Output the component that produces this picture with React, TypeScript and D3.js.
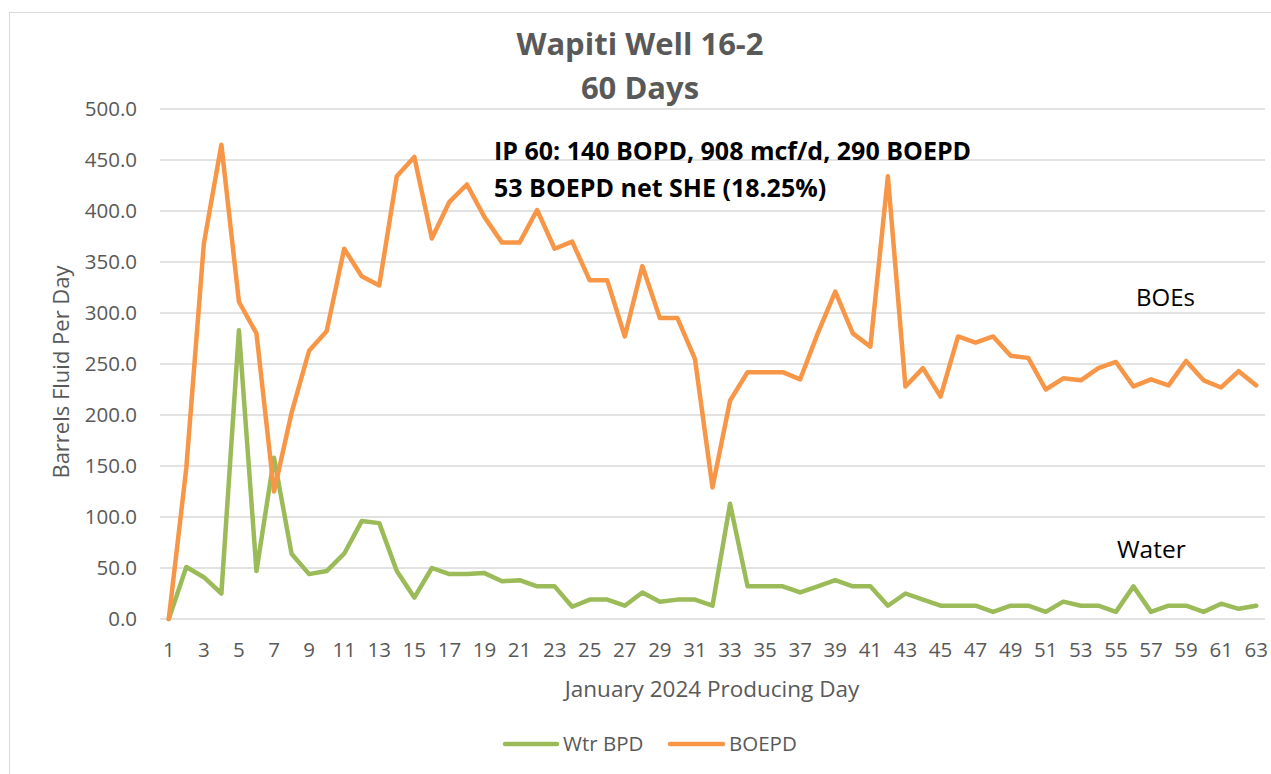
import * as d3 from "d3";

const days = d3.range(1, 64);

const boepd = [
  0, 148, 368, 465, 311, 280, 125, 202, 263, 282,
  363, 336, 327, 434, 453, 373, 409, 426, 394, 369,
  369, 401, 363, 370, 332, 332, 277, 346, 295, 295,
  255, 129, 214, 242, 242, 242, 235, 280, 321, 280,
  267, 434, 228, 246, 218, 277, 271, 277, 258, 256,
  225, 236, 234, 246, 252, 228, 235, 229, 253, 234,
  227, 243, 229,
];

const wtrBpd = [
  0, 51, 41, 25, 283, 47, 158, 64, 44, 47,
  64, 96, 94, 47, 21, 50, 44, 44, 45, 37,
  38, 32, 32, 12, 19, 19, 13, 26, 17, 19,
  19, 13, 113, 32, 32, 32, 26, 32, 38, 32,
  32, 13, 25, 19, 13, 13, 13, 7, 13, 13,
  7, 17, 13, 13, 7, 32, 7, 13, 13, 7,
  15, 10, 13,
];

const yTicks = d3.range(0, 501, 50);
const xTickDays = days.filter((d) => d % 2 === 1);

const FONT = "'Open Sans', Lato, sans-serif";
const GREY = "#595959";
const ORANGE = "#F79646";
const GREEN = "#9BBB59";

const W = 1271;
const H = 774;

export default function App() {
  const x = d3.scalePoint<number>().domain(days).range([160, 1265]).padding(0.5);
  const y = d3.scaleLinear().domain([0, 500]).range([619, 109]);

  const line = d3
    .line<number>()
    .x((_, i) => x(days[i]) as number)
    .y((v) => y(v));

  return (
    <svg
      width={W}
      height={H}
      style={{ position: "absolute", left: 0, top: 0, background: "#fff" }}
      fontFamily={FONT}
    >
      <rect x={9.5} y={12.5} width={1300} height={800} fill="#fff" stroke="#d9d9d9" />

      {/* titre */}
      <text x={640} y={55} textAnchor="middle" fontSize={31} fontWeight="bold" fill={GREY}>
        Wapiti Well 16-2
      </text>
      <text x={640} y={99} textAnchor="middle" fontSize={31} fontWeight="bold" fill={GREY}>
        60 Days
      </text>

      {/* grille */}
      {yTicks.map((t) => (
        <g key={t}>
          <line x1={160} x2={1265} y1={y(t)} y2={y(t)} stroke="#d9d9d9" strokeWidth={1.3} />
          <text x={137} y={y(t)} dy="0.36em" textAnchor="end" fontSize={20.5} fill={GREY}>
            {t.toFixed(1)}
          </text>
        </g>
      ))}

      {xTickDays.map((d) => (
        <text key={d} x={x(d)} y={657} textAnchor="middle" fontSize={20.5} fill={GREY}>
          {d}
        </text>
      ))}

      <text
        transform={`translate(69,372) rotate(-90)`}
        textAnchor="middle"
        fontSize={22}
        fill={GREY}
      >
        Barrels Fluid Per Day
      </text>
      <text x={712} y={697} textAnchor="middle" fontSize={22.5} fill={GREY}>
        January 2024 Producing Day
      </text>

      {/* séries */}
      <path d={line(wtrBpd) ?? ""} fill="none" stroke={GREEN} strokeWidth={4.5} strokeLinejoin="round" strokeLinecap="round" />
      <path d={line(boepd) ?? ""} fill="none" stroke={ORANGE} strokeWidth={4.5} strokeLinejoin="round" strokeLinecap="round" />

      {/* annotations */}
      <text x={494} y={160} fontSize={25} fontWeight="bold" fill="#000">
        IP 60: 140 BOPD, 908 mcf/d, 290 BOEPD
      </text>
      <text x={494} y={197} fontSize={25} fontWeight="bold" fill="#000">
        53 BOEPD net SHE (18.25%)
      </text>
      <text x={1136} y={306} fontSize={24} fill="#000">
        BOEs
      </text>
      <text x={1117} y={558} fontSize={24.5} fill="#000">
        Water
      </text>

      {/* légende */}
      <line x1={505} x2={557} y1={744} y2={744} stroke={GREEN} strokeWidth={4.5} strokeLinecap="round" />
      <text x={563} y={744} dy="0.36em" fontSize={20.5} fill={GREY}>
        Wtr BPD
      </text>
      <line x1={670} x2={723} y1={744} y2={744} stroke={ORANGE} strokeWidth={4.5} strokeLinecap="round" />
      <text x={729} y={744} dy="0.36em" fontSize={20.5} fill={GREY}>
        BOEPD
      </text>
    </svg>
  );
}
